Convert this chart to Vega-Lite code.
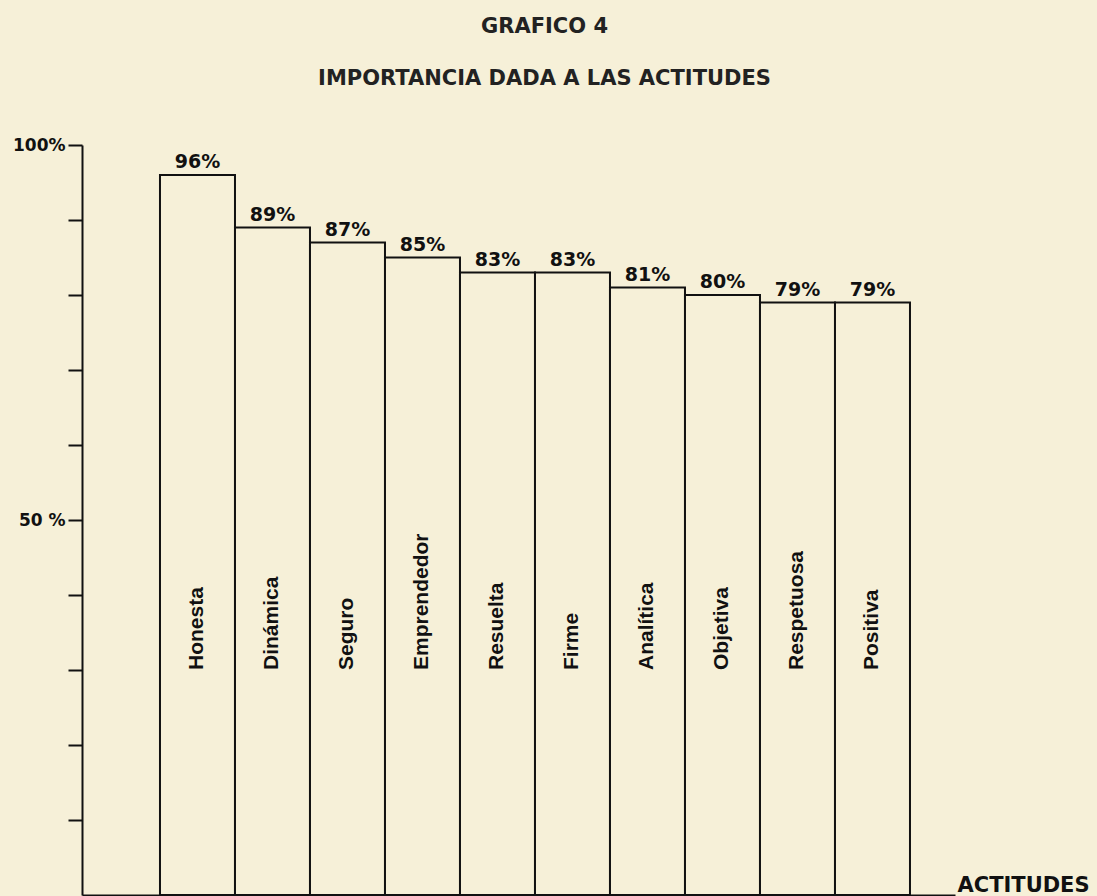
{
  "$schema": "https://vega.github.io/schema/vega-lite/v6.json",
  "width": 873,
  "height": 750,
  "autosize": {"type": "none"},
  "padding": {"left": 82, "top": 145, "right": 142, "bottom": 1},
  "background": "#f6f0d8",
  "view": {"stroke": null},
  "title": {
    "text": "GRAFICO 4",
    "subtitle": "IMPORTANCIA DADA A LAS ACTITUDES",
    "anchor": "middle",
    "frame": "group",
    "font": "DejaVu Sans",
    "fontSize": 21,
    "fontWeight": "bold",
    "color": "#222222",
    "subtitleFont": "DejaVu Sans",
    "subtitleFontSize": 21,
    "subtitleFontWeight": "bold",
    "subtitleColor": "#222222",
    "subtitlePadding": 31,
    "offset": 47,
    "dx": 26
  },
  "data": {
    "values": [
      {"actitud": "Honesta", "pct": 96, "etiqueta": "96%"},
      {"actitud": "Dinámica", "pct": 89, "etiqueta": "89%"},
      {"actitud": "Seguro", "pct": 87, "etiqueta": "87%"},
      {"actitud": "Emprendedor", "pct": 85, "etiqueta": "85%"},
      {"actitud": "Resuelta", "pct": 83, "etiqueta": "83%"},
      {"actitud": "Firme", "pct": 83, "etiqueta": "83%"},
      {"actitud": "Analítica", "pct": 81, "etiqueta": "81%"},
      {"actitud": "Objetiva", "pct": 80, "etiqueta": "80%"},
      {"actitud": "Respetuosa", "pct": 79, "etiqueta": "79%"},
      {"actitud": "Positiva", "pct": 79, "etiqueta": "79%"}
    ]
  },
  "encoding": {
    "x": {
      "field": "actitud",
      "type": "nominal",
      "sort": null,
      "scale": {"paddingInner": 0, "paddingOuter": 0.82, "align": 0.634},
      "axis": {
        "labels": false,
        "ticks": false,
        "domain": true,
        "domainColor": "#111111",
        "domainWidth": 2,
        "title": "ACTITUDES",
        "titleFont": "DejaVu Sans",
        "titleFontSize": 21,
        "titleFontWeight": "bold",
        "titleColor": "#111111",
        "titleAngle": 0,
        "titleAlign": "left",
        "titleBaseline": "alphabetic",
        "titleX": 875,
        "titleY": -4
      }
    }
  },
  "layer": [
    {
      "mark": {"type": "bar", "fill": "#f6f0d8", "stroke": "#111111", "strokeWidth": 2},
      "encoding": {
        "y": {
          "field": "pct",
          "type": "quantitative",
          "scale": {"domain": [0, 100], "nice": false},
          "axis": {
            "title": null,
            "values": [10, 20, 30, 40, 50, 60, 70, 80, 90, 100],
            "labelExpr": "datum.value == 100 ? '100%' : (datum.value == 50 ? '50 %' : '')",
            "labelFont": "DejaVu Sans",
            "labelFontSize": 17,
            "labelFontWeight": "bold",
            "labelColor": "#111111",
            "labelPadding": 3,
            "tickSize": 14,
            "tickWidth": 2,
            "tickColor": "#111111",
            "domainColor": "#111111",
            "domainWidth": 2,
            "grid": false
          }
        }
      }
    },
    {
      "mark": {"type": "text", "font": "DejaVu Sans", "fontSize": 19, "fontWeight": "bold", "color": "#111111", "baseline": "alphabetic", "dy": -7},
      "encoding": {
        "y": {"field": "pct", "type": "quantitative"},
        "text": {"field": "etiqueta"}
      }
    },
    {
      "mark": {"type": "text", "font": "Liberation Sans", "fontSize": 21, "fontWeight": "bold", "color": "#111111", "angle": 270, "align": "left", "baseline": "middle"},
      "encoding": {
        "y": {"datum": 30},
        "text": {"field": "actitud"}
      }
    }
  ]
}
